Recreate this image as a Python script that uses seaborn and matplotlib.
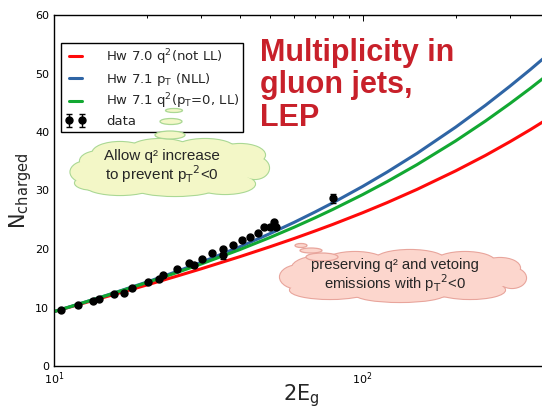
import matplotlib
matplotlib.use("Agg")
import matplotlib.pyplot as plt
from matplotlib.patches import Ellipse
import numpy as np
import pandas as pd
import seaborn as sns

# --- model curves ---
curve_x = [10, 12, 15, 20, 25, 30, 40, 50, 60, 70, 80, 100, 120, 150, 200, 250,
           300, 350, 400]
hw70_q2 = [9.3, 10.49, 11.95, 13.85, 15.36, 16.62, 18.69, 20.37, 21.8, 23.07,
           24.2, 26.2, 27.93, 30.19, 33.35, 36.0, 38.34, 40.43, 42.33]
hw71_pt = [9.3, 10.57, 12.18, 14.35, 16.16, 17.72, 20.38, 22.61, 24.56, 26.31,
           27.89, 30.7, 33.15, 36.35, 40.82, 44.57, 47.83, 50.71, 53.32]
hw71_q2 = [9.3, 10.57, 12.15, 14.26, 15.97, 17.44, 19.9, 21.95, 23.73, 25.32,
           26.76, 29.3, 31.52, 34.42, 38.47, 41.88, 44.86, 47.5, 49.9]

curve_labels = [
    r"Hw 7.0 q$^2$(not LL)",
    r"Hw 7.1 p$_\mathrm{T}$ (NLL)",
    r"Hw 7.1 q$^2$(p$_\mathrm{T}$=0, LL)",
]
curve_colors = ["#ff0a0a", "#2f65a5", "#12a832"]

# --- LEP data ---
data_x = [10.5, 12.0, 13.4, 14.0, 15.6, 16.9, 17.9, 20.1, 21.9, 22.5, 25.0, 27.4,
          28.4, 30.1, 32.6, 35.2, 35.3, 37.9, 40.6, 43.2, 45.8, 48.0, 50.1, 51.6,
          52.4, 80.0]
data_y = [9.57, 10.37, 11.16, 11.4, 12.36, 12.53, 13.4, 14.36, 14.8, 15.56, 16.5,
          17.6, 17.2, 18.3, 19.25, 20.0, 18.97, 20.7, 21.6, 22.1, 22.7, 23.8,
          23.77, 24.6, 23.76, 28.66]
data_err = [0.2, 0.2, 0.2, 0.2, 0.2, 0.2, 0.2, 0.2, 0.2, 0.2, 0.2, 0.2, 0.2, 0.2,
            0.2, 0.2, 0.75, 0.2, 0.2, 0.2, 0.2, 0.2, 0.2, 0.2, 0.2, 0.8]

sns.set_style("white")
plt.rcParams["font.family"] = ["DejaVu Sans"]
plt.rcParams["axes.linewidth"] = 1.0

W, H = 542, 408
fig = plt.figure(figsize=(W / 100, H / 100), dpi=100)
ax = fig.add_axes([54 / W, 1 - 366 / H, 494.5 / W, 351 / H])

curves = pd.DataFrame({
    "x": curve_x * 3,
    "y": hw70_q2 + hw71_pt + hw71_q2,
    "model": [l for l in curve_labels for _ in curve_x],
})
for lab, col in zip(curve_labels, curve_colors):
    sub = curves[curves["model"] == lab]
    sns.lineplot(data=sub, x="x", y="y", color=col, lw=2.2, label=lab, ax=ax)

ax.errorbar(data_x, data_y, yerr=data_err, fmt="o", color="black", ms=5,
            elinewidth=1, capsize=2.5, capthick=1, label="data", zorder=4)

ax.set_xscale("log")
ax.set_xlim(10, 400)
ax.set_ylim(0, 60)
ax.set_yticks(np.arange(0, 61, 10))
ax.tick_params(which="both", direction="in", top=True, right=True,
               labelsize=8, colors="black", width=0.7)
ax.tick_params(which="major", length=4)
ax.tick_params(which="minor", length=2.5)
for s in ax.spines.values():
    s.set_color("black")
ax.set_xlabel(r"2E$_\mathrm{g}$", fontsize=15, labelpad=-4)
ax.set_ylabel(r"N$_\mathrm{charged}$", fontsize=15, labelpad=1)

leg = ax.legend(loc="upper left", bbox_to_anchor=(61 / W, 1 - 43 / H),
                bbox_transform=fig.transFigure, borderaxespad=0, fontsize=9.5,
                numpoints=2, handlelength=1.6, handletextpad=1.5, borderpad=0.3,
                labelspacing=0.3, fancybox=False, framealpha=1)
leg.get_frame().set_edgecolor("black")
leg.get_frame().set_linewidth(1.0)

# overlay in pixel coordinates for the annotations
ov = fig.add_axes([0, 0, 1, 1])
ov.set_xlim(0, W)
ov.set_ylim(H, 0)
ov.axis("off")


def cloud(parts, bubbles, face, edge):
    for cx, cy, w, h in parts:
        ov.add_patch(Ellipse((cx, cy), w, h, facecolor=face, edgecolor=edge, lw=1.6))
    for cx, cy, w, h in parts:
        ov.add_patch(Ellipse((cx, cy), w, h, facecolor=face, edgecolor="none"))
    for cx, cy, w, h in bubbles:
        ov.add_patch(Ellipse((cx, cy), w, h, facecolor=face, edgecolor=edge, lw=0.9))


yellow_parts = [(170, 168, 175, 42), (120, 153, 55, 22), (160, 149, 60, 20),
                (205, 149, 60, 20), (240, 155, 50, 22), (88, 172, 35, 22),
                (100, 161, 40, 20), (255, 168, 28, 22), (120, 185, 70, 20),
                (175, 188, 80, 16), (225, 184, 60, 20), (95, 183, 40, 14)]
yellow_bubbles = [(170, 135, 30, 8), (171, 121.5, 22, 6), (174, 110.5, 17, 4)]
cloud(yellow_parts, yellow_bubbles, "#f3f7c7", "#aad894")

pink_parts = [(400, 278, 225, 40), (300, 277, 40, 24), (322, 268, 60, 24),
              (355, 262, 60, 20), (410, 260, 70, 20), (465, 262, 60, 20),
              (500, 268, 40, 20), (512, 278, 28, 20), (330, 290, 80, 18),
              (400, 294, 90, 16), (470, 290, 70, 18)]
pink_bubbles = [(322, 257, 32, 8), (311, 250.5, 22, 5), (301, 245.5, 12, 4)]
cloud(pink_parts, pink_bubbles, "#fcd6cd", "#e8a59c")

ov.text(162, 167, "Allow q\u00b2 increase\nto prevent p$_\\mathrm{T}{}^2$<0",
        ha="center", va="center", fontsize=11, family="Liberation Sans",
        linespacing=1.05)
ov.text(395, 276, "preserving q\u00b2 and vetoing\nemissions with p$_\\mathrm{T}{}^2$<0",
        ha="center", va="center", fontsize=10.7, family="Liberation Sans",
        linespacing=1.05)

ov.text(260, 38, "Multiplicity in\ngluon jets,\nLEP", ha="left", va="top",
        fontsize=22, fontweight="bold", family="Liberation Sans",
        color="#c8202a", linespacing=1.1)

fig.savefig("out.png", dpi=100)
